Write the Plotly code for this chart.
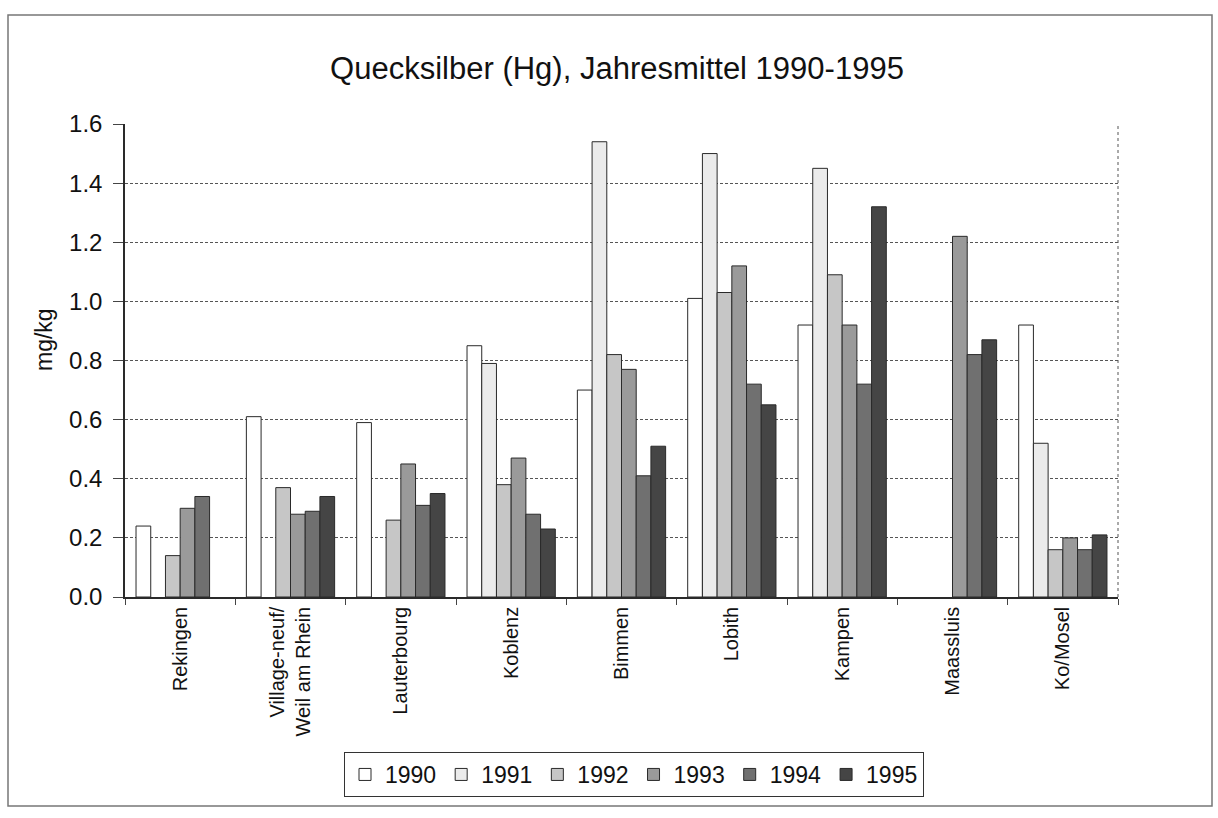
import plotly.graph_objects as go

# Messstellen entlang des Rheins (und Mosel)
stations = [
    "Rekingen",
    "Village-neuf/<br>Weil am Rhein",
    "Lauterbourg",
    "Koblenz",
    "Bimmen",
    "Lobith",
    "Kampen",
    "Maassluis",
    "Ko/Mosel",
]

years = ["1990", "1991", "1992", "1993", "1994", "1995"]

# Jahresmittel Quecksilber in mg/kg (None = kein Messwert)
hg_1990 = [0.24, 0.61, 0.59, 0.85, 0.70, 1.01, 0.92, None, 0.92]
hg_1991 = [None, None, None, 0.79, 1.54, 1.50, 1.45, None, 0.52]
hg_1992 = [0.14, 0.37, 0.26, 0.38, 0.82, 1.03, 1.09, None, 0.16]
hg_1993 = [0.30, 0.28, 0.45, 0.47, 0.77, 1.12, 0.92, 1.22, 0.20]
hg_1994 = [0.34, 0.29, 0.31, 0.28, 0.41, 0.72, 0.72, 0.82, 0.16]
hg_1995 = [None, 0.34, 0.35, 0.23, 0.51, 0.65, 1.32, 0.87, 0.21]

y_ticks = [0.0, 0.2, 0.4, 0.6, 0.8, 1.0, 1.2, 1.4, 1.6]

series = [hg_1990, hg_1991, hg_1992, hg_1993, hg_1994, hg_1995]
fills = ["#ffffff", "#ebebeb", "#c6c6c6", "#9a9a9a", "#707070", "#454545"]

FONT = "Liberation Sans, Arial, sans-serif"

fig = go.Figure()
for year, values, fill in zip(years, series, fills):
    fig.add_trace(
        go.Bar(
            x=stations,
            y=values,
            name=year,
            marker=dict(color=fill, line=dict(color="#2a2a2a", width=1)),
        )
    )

W, H = 1218, 818
L, R, T, B = 125, 100, 124, 221
plot_w = W - L - R
plot_h = H - T - B


def px_x(px):
    return (px - L) / plot_w


def px_y(py):
    return (H - B - py) / plot_h


fig.update_layout(
    width=W,
    height=H,
    margin=dict(l=L, r=R, t=T, b=B, pad=0),
    paper_bgcolor="white",
    plot_bgcolor="white",
    barmode="group",
    bargap=0.2,
    bargroupgap=0,
    font=dict(family=FONT, color="#111111"),
    title=dict(
        text="Quecksilber (Hg), Jahresmittel 1990-1995",
        x=617 / W,
        xanchor="center",
        y=1 - 68 / H,
        yanchor="middle",
        font=dict(size=31, family=FONT, color="#111111"),
    ),
    xaxis=dict(
        type="category",
        showgrid=False,
        showline=True,
        linecolor="#2a2a2a",
        linewidth=1.5,
        ticks="outside",
        tickson="boundaries",
        ticklen=6,
        tickcolor="#444444",
        tickangle=-90,
        tickfont=dict(size=20, family=FONT, color="#111111"),
    ),
    yaxis=dict(
        range=[0, 1.6],
        tickvals=y_ticks,
        ticktext=[f"{v:.1f}" for v in y_ticks],
        showgrid=True,
        gridcolor="#555555",
        gridwidth=1,
        griddash="3px,2px",
        showline=True,
        linecolor="#2a2a2a",
        linewidth=1.5,
        ticks="outside",
        ticklen=10,
        tickcolor="#444444",
        ticklabelstandoff=6,
        tickfont=dict(size=24, family=FONT, color="#111111"),
        zeroline=False,
    ),
    legend=dict(
        orientation="h",
        x=px_x(634),
        xanchor="center",
        y=px_y(752),
        yanchor="top",
        bgcolor="white",
        bordercolor="#333333",
        borderwidth=1,
        font=dict(size=23, family=FONT, color="#111111"),
        itemwidth=30,
        traceorder="normal",
    ),
    annotations=[
        dict(
            text="mg/kg",
            xref="paper",
            yref="paper",
            x=px_x(44),
            y=px_y(340),
            xanchor="center",
            yanchor="middle",
            textangle=-90,
            showarrow=False,
            font=dict(size=23, family=FONT, color="#111111"),
        )
    ],
    shapes=[
        # rechter Rand der Zeichenfläche
        dict(
            type="line",
            xref="paper",
            yref="paper",
            x0=1,
            x1=1,
            y0=0,
            y1=1,
            line=dict(color="#555555", width=1, dash="dot"),
        ),
        # Diagrammrahmen
        dict(
            type="rect",
            xref="paper",
            yref="paper",
            x0=px_x(8),
            x1=px_x(1212),
            y0=px_y(806),
            y1=px_y(15),
            line=dict(color="#777777", width=1.5),
            layer="below",
        ),
    ],
)

fig.write_html("out.html")
